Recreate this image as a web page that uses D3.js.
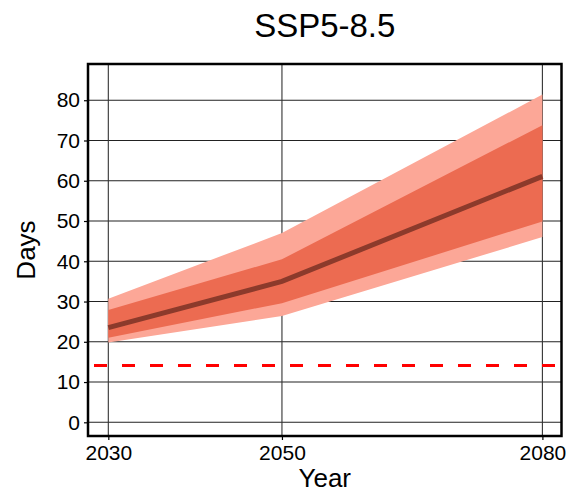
<!DOCTYPE html>
<html>
<head>
<meta charset="utf-8">
<script src="https://cdn.jsdelivr.net/npm/d3@7"></script>
<style>
  body { margin: 0; background: #fff; }
  text { font-family: "Liberation Sans", Arial, sans-serif; fill: #000; }
</style>
</head>
<body>
<div id="chart"></div>
<script>
// values
var years = [2030, 2050, 2080];
var median = [23.5, 35, 61.1];
var innerLow = [21, 29.6, 49.9];
var innerHigh = [27.9, 40.5, 73.8];
var outerLow = [19.8, 26.4, 46.0];
var outerHigh = [30.7, 47, 81.4];
var threshold = 14.1;
var yTicks = [0, 10, 20, 30, 40, 50, 60, 70, 80];
var xTicks = [2030, 2050, 2080];

var width = 566, height = 492;
var margin = {top: 64, right: 4.5, bottom: 56, left: 88};

var svg = d3.select("#chart").append("svg")
    .attr("width", width)
    .attr("height", height);

var x = d3.scaleLinear()
    .domain([2027.66, 2082.2])
    .range([margin.left, width - margin.right]);

var y = d3.scaleLinear()
    .domain([-3.4, 89])
    .range([height - margin.bottom, margin.top]);

var rows = years.map(function(yr, i) {
    return {year: yr, med: median[i], il: innerLow[i], ih: innerHigh[i], ol: outerLow[i], oh: outerHigh[i]};
});

// grid
svg.append("g").selectAll("line.h").data(yTicks).enter().append("line")
    .attr("x1", x.range()[0]).attr("x2", x.range()[1])
    .attr("y1", function(d) { return y(d); }).attr("y2", function(d) { return y(d); })
    .attr("stroke", "#222").attr("stroke-width", 1.1);
svg.append("g").selectAll("line.v").data(xTicks).enter().append("line")
    .attr("y1", y.range()[0]).attr("y2", y.range()[1])
    .attr("x1", function(d) { return x(d); }).attr("x2", function(d) { return x(d); })
    .attr("stroke", "#333").attr("stroke-width", 1.1);

// bands
var area = function(lo, hi) {
    return d3.area().x(function(d) { return x(d.year); })
        .y0(function(d) { return y(d[lo]); })
        .y1(function(d) { return y(d[hi]); });
};
svg.append("path").datum(rows).attr("d", area("ol", "oh")).attr("fill", "#fca797");
svg.append("path").datum(rows).attr("d", area("il", "ih")).attr("fill", "#ec6b51");

svg.append("path").datum(rows)
    .attr("d", d3.line().x(function(d) { return x(d.year); }).y(function(d) { return y(d.med); }))
    .attr("fill", "none").attr("stroke", "#8c3a2b").attr("stroke-width", 5);

// threshold line
svg.append("line")
    .attr("x1", x.range()[0]).attr("x2", x.range()[1])
    .attr("y1", y(threshold)).attr("y2", y(threshold))
    .attr("stroke", "#ff0000").attr("stroke-width", 3)
    .attr("stroke-dasharray", "13,15")
    .attr("stroke-dashoffset", -6);

// axes
var yAxis = svg.append("g")
    .attr("transform", "translate(" + margin.left + ",0)")
    .call(d3.axisLeft(y).tickValues(yTicks).tickSize(4).tickPadding(4));
var xAxis = svg.append("g")
    .attr("transform", "translate(0," + (height - margin.bottom) + ")")
    .call(d3.axisBottom(x).tickValues(xTicks).tickFormat(d3.format("d")).tickSize(4).tickPadding(5));
[yAxis, xAxis].forEach(function(g) {
    g.select(".domain").remove();
    g.selectAll(".tick line").attr("stroke", "#000").attr("stroke-width", 1.2);
    g.selectAll("text").attr("font-family", null).style("font-size", "21px");
});

// frame
svg.append("rect")
    .attr("x", x.range()[0]).attr("y", y.range()[1])
    .attr("width", x.range()[1] - x.range()[0])
    .attr("height", y.range()[0] - y.range()[1])
    .attr("fill", "none").attr("stroke", "#000").attr("stroke-width", 2.5);

// labels
var cx = (x.range()[0] + x.range()[1]) / 2;
svg.append("text").attr("x", cx).attr("y", 37)
    .attr("text-anchor", "middle").style("font-size", "33px").text("SSP5-8.5");
svg.append("text").attr("x", cx).attr("y", 487)
    .attr("text-anchor", "middle").style("font-size", "26px").text("Year");
svg.append("text")
    .attr("transform", "translate(35," + ((y.range()[0] + y.range()[1]) / 2) + ") rotate(-90)")
    .attr("text-anchor", "middle").style("font-size", "26px").text("Days");
</script>
</body>
</html>
